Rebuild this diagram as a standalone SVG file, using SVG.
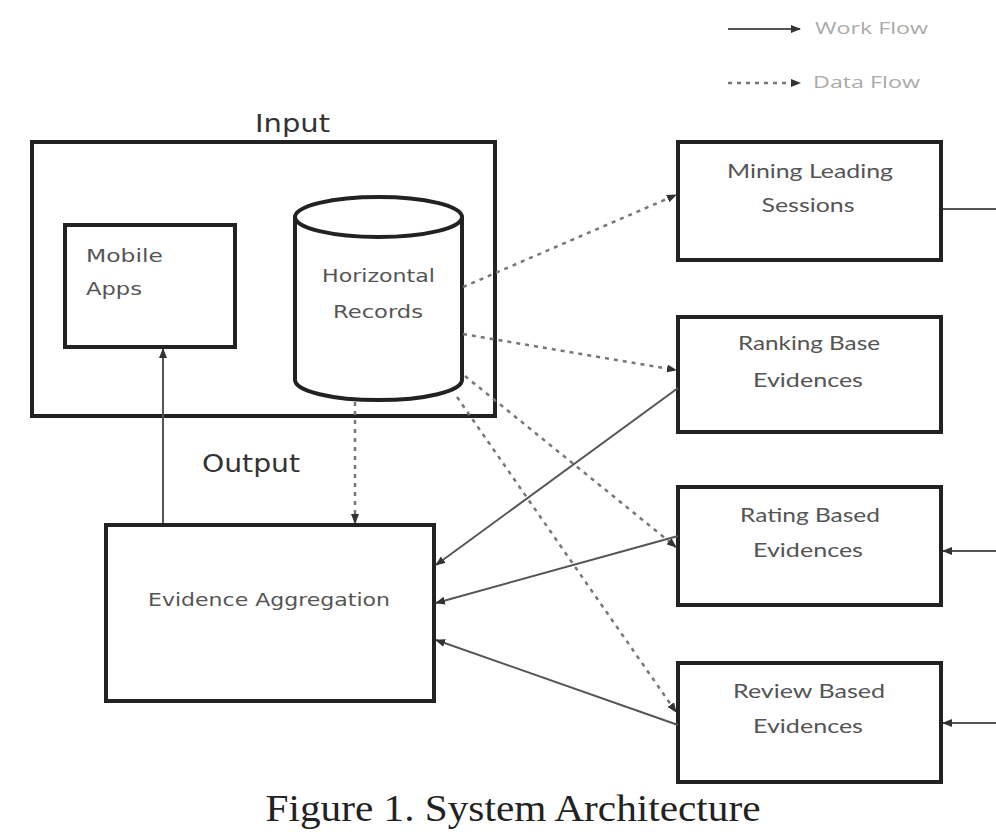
<svg xmlns="http://www.w3.org/2000/svg" width="996" height="832" viewBox="0 0 996 832">
<defs>
<marker id="ah" markerUnits="userSpaceOnUse" markerWidth="10" markerHeight="8" refX="9" refY="4" orient="auto">
<path d="M0,0 L10,4 L0,8 Z" fill="#333"/>
</marker>
<style>
.box{fill:#fff;stroke:#222;stroke-width:4}
.work{fill:none;stroke:#555;stroke-width:2}
.data{fill:none;stroke:#777;stroke-width:2.5;stroke-dasharray:4 5}
.g{font-family:"DejaVu Sans","Liberation Sans",sans-serif;fill:#555;font-size:17px}
.c{font-family:Lato,"Open Sans","Liberation Sans",sans-serif;fill:#555;font-size:20px;text-anchor:middle}
.h{font-family:"DejaVu Sans","Liberation Sans",sans-serif;fill:#333;font-size:24px}
.lg{font-family:"Open Sans","Liberation Sans",sans-serif;fill:#aaa;font-size:17px}
.cap{font-family:"Liberation Serif","Times New Roman",serif;fill:#222;font-size:37px;text-anchor:middle}
</style>
</defs>
<rect width="996" height="832" fill="#fff"/>

<g id="legend">
<line x1="728" y1="29" x2="800" y2="29" class="work" marker-end="url(#ah)"/>
<text x="815" y="34" class="lg" textLength="113" lengthAdjust="spacingAndGlyphs">Work Flow</text>
<line x1="728" y1="83" x2="800" y2="83" class="data" stroke-dasharray="4 4" marker-end="url(#ah)"/>
<text x="813" y="88" class="lg" textLength="107" lengthAdjust="spacingAndGlyphs">Data Flow</text>
</g>

<g id="input">
<rect x="32" y="142" width="463" height="274" class="box"/>
<text x="255" y="132" class="h" textLength="75" lengthAdjust="spacingAndGlyphs">Input</text>
</g>

<g id="mobile-apps">
<rect x="65" y="225" width="170" height="122" class="box"/>
<text x="86" y="262" class="g" textLength="77" lengthAdjust="spacingAndGlyphs">Mobile</text>
<text x="86" y="295" class="g" textLength="56" lengthAdjust="spacingAndGlyphs">Apps</text>
</g>

<g id="horizontal-records">
<path d="M295,217 L295,380 A83,20 0 0 0 462,380 L462,217" class="box"/>
<ellipse cx="378.5" cy="217" rx="83.5" ry="20" class="box"/>
<text x="322" y="282" class="g" textLength="113" lengthAdjust="spacingAndGlyphs">Horizontal</text>
<text x="333" y="318" class="g" textLength="90" lengthAdjust="spacingAndGlyphs">Records</text>
</g>

<g id="mining-leading-sessions">
<rect x="678" y="142" width="263" height="118" class="box"/>
<text x="810" y="178" class="c" textLength="166" lengthAdjust="spacingAndGlyphs">Mining Leading</text>
<text x="808" y="212" class="c" textLength="93" lengthAdjust="spacingAndGlyphs">Sessions</text>
</g>

<g id="ranking-base-evidences">
<rect x="678" y="317" width="263" height="115" class="box"/>
<text x="809" y="350" class="c" textLength="142" lengthAdjust="spacingAndGlyphs">Ranking Base</text>
<text x="808" y="387" class="c" textLength="110" lengthAdjust="spacingAndGlyphs">Evidences</text>
</g>

<g id="rating-based-evidences">
<rect x="678" y="487" width="263" height="118" class="box"/>
<text x="810" y="522" class="c" textLength="140" lengthAdjust="spacingAndGlyphs">Rating Based</text>
<text x="808" y="557" class="c" textLength="110" lengthAdjust="spacingAndGlyphs">Evidences</text>
</g>

<g id="review-based-evidences">
<rect x="678" y="663" width="263" height="119" class="box"/>
<text x="809" y="698" class="c" textLength="152" lengthAdjust="spacingAndGlyphs">Review Based</text>
<text x="808" y="733" class="c" textLength="110" lengthAdjust="spacingAndGlyphs">Evidences</text>
</g>

<g id="evidence-aggregation">
<rect x="106" y="525" width="328" height="176" class="box"/>
<text x="148" y="606" class="g" textLength="242" lengthAdjust="spacingAndGlyphs">Evidence Aggregation</text>
</g>

<text x="202" y="472" class="h" textLength="98" lengthAdjust="spacingAndGlyphs">Output</text>

<g id="connectors">
<line x1="163" y1="523" x2="163" y2="349" class="work" marker-end="url(#ah)"/>
<line x1="355" y1="402" x2="355" y2="523" class="data" marker-end="url(#ah)"/>
<line x1="463" y1="287" x2="676" y2="195" class="data" marker-end="url(#ah)"/>
<line x1="463" y1="334" x2="676" y2="370" class="data" marker-end="url(#ah)"/>
<line x1="465" y1="376" x2="676" y2="547" class="data" marker-end="url(#ah)"/>
<line x1="457" y1="397" x2="676" y2="712" class="data" marker-end="url(#ah)"/>
<line x1="678" y1="388" x2="436" y2="565" class="work" marker-end="url(#ah)"/>
<line x1="678" y1="536" x2="436" y2="603" class="work" marker-end="url(#ah)"/>
<line x1="678" y1="725" x2="436" y2="640" class="work" marker-end="url(#ah)"/>
<line x1="943" y1="209" x2="996" y2="209" class="work"/>
<line x1="996" y1="551" x2="943" y2="551" class="work" marker-end="url(#ah)"/>
<line x1="996" y1="723" x2="943" y2="723" class="work" marker-end="url(#ah)"/>
</g>

<text x="513" y="821" class="cap" textLength="495" lengthAdjust="spacingAndGlyphs">Figure 1. System Architecture</text>
</svg>
